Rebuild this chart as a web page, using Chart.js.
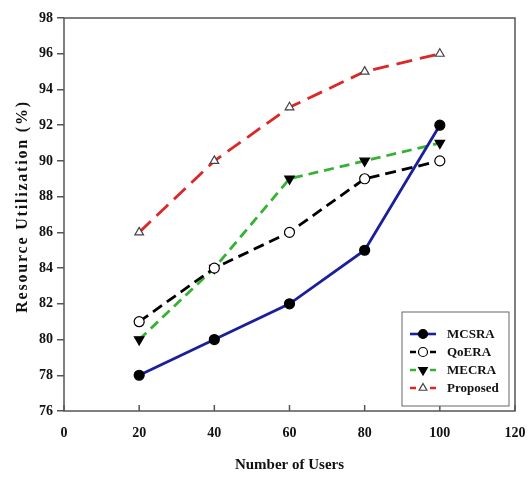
<!DOCTYPE html>
<html>
<head>
<meta charset="utf-8">
<script src="https://cdn.jsdelivr.net/npm/chart.js@4/dist/chart.umd.min.js"></script>
<style>
  html, body { margin: 0; padding: 0; background: #fff; }
  #wrap { width: 528px; height: 478px; }
</style>
</head>
<body>
<div id="wrap"><canvas id="utilChart" width="528" height="478"></canvas></div>
<script>
// users on the x axis, utilization (%) per scheme
const users = [20, 40, 60, 80, 100];
const mcsra = [78, 80, 82, 85, 92];
const qoera = [81, 84, 86, 89, 90];
const mecra = [80, 84, 89, 90, 91];
const proposed = [86, 90, 93, 95, 96];
const xTicks = [0, 20, 40, 60, 80, 100, 120];
const yTicks = [76, 78, 80, 82, 84, 86, 88, 90, 92, 94, 96, 98];
const yTitle = 'Resource Utilization (%)';

const FONT = '"Liberation Serif", "Times New Roman", serif';
const AXIS = '#555';

const pts = arr => users.map((u, i) => ({ x: u, y: arr[i] }));

const series = [
  { label: 'MCSRA', data: pts(mcsra), borderColor: '#1b1f9c', borderDash: [], pointStyle: 'circle', pointRadius: 5, pointBackgroundColor: '#000', pointBorderColor: '#000', rot: 0 },
  { label: 'QoERA', data: pts(qoera), borderColor: '#000', borderDash: [11, 6], pointStyle: 'circle', pointRadius: 5, pointBackgroundColor: '#fff', pointBorderColor: '#000', rot: 0 },
  { label: 'MECRA', data: pts(mecra), borderColor: '#33b233', borderDash: [10, 6], pointStyle: 'triangle', pointRadius: 5.5, pointBackgroundColor: '#000', pointBorderColor: '#000', rot: 180 },
  { label: 'Proposed', data: pts(proposed), borderColor: '#dd2626', borderDash: [16, 8], pointStyle: 'triangle', pointRadius: 5, pointBackgroundColor: '#fff', pointBorderColor: '#444', rot: 0 }
];

// frame, inward x ticks, spaced y title and the boxed legend
const framePlugin = {
  id: 'frame',
  afterDraw(chart) {
    const { ctx, chartArea: a, scales } = chart;
    ctx.save();
    ctx.strokeStyle = AXIS;
    ctx.lineWidth = 1.5;
    ctx.strokeRect(a.left, a.top, a.right - a.left, a.bottom - a.top);
    xTicks.forEach(v => {
      const px = scales.x.getPixelForValue(v);
      ctx.beginPath();
      ctx.moveTo(px, a.bottom);
      ctx.lineTo(px, a.bottom - 6);
      ctx.stroke();
    });

    ctx.save();
    ctx.translate(23, (a.top + a.bottom) / 2 - 8);
    ctx.rotate(-Math.PI / 2);
    ctx.font = 'bold 16px ' + FONT;
    ctx.letterSpacing = '1.8px';
    ctx.fillStyle = '#111';
    ctx.textAlign = 'center';
    ctx.textBaseline = 'middle';
    ctx.fillText(yTitle, 0, 0);
    ctx.restore();

    // legend box
    const bx = 402, by = 312, bw = 107, bh = 94;
    ctx.fillStyle = '#fff';
    ctx.fillRect(bx, by, bw, bh);
    ctx.strokeStyle = '#666';
    ctx.lineWidth = 1;
    ctx.strokeRect(bx, by, bw, bh);
    ctx.font = 'bold 13px ' + FONT;
    ctx.textBaseline = 'middle';
    series.forEach((s, i) => {
      const y = by + 22 + i * 18;
      const x0 = bx + 8, x1 = bx + 34, xm = (x0 + x1) / 2;
      ctx.strokeStyle = s.borderColor;
      ctx.lineWidth = 2.6;
      ctx.setLineDash(s.borderDash.length ? [6, 4] : []);
      ctx.beginPath();
      ctx.moveTo(x0, y);
      ctx.lineTo(x1, y);
      ctx.stroke();
      ctx.setLineDash([]);
      ctx.fillStyle = s.pointBackgroundColor;
      ctx.strokeStyle = s.pointBorderColor;
      ctx.lineWidth = 1.2;
      Chart.helpers.drawPoint(ctx, { pointStyle: s.pointStyle, radius: s.pointRadius - 0.5, rotation: s.rot, borderWidth: 1.2 }, xm, y);
      ctx.fillStyle = '#111';
      ctx.fillText(s.label, bx + 45, y + 1);
    });
    ctx.restore();
  }
};

new Chart(document.getElementById('utilChart'), {
  type: 'line',
  data: {
    datasets: series.map(s => ({
      label: s.label,
      data: s.data,
      borderColor: s.borderColor,
      borderDash: s.borderDash,
      borderWidth: 2.8,
      pointStyle: s.pointStyle,
      pointRadius: s.pointRadius,
      pointRotation: s.rot,
      pointBackgroundColor: s.pointBackgroundColor,
      pointBorderColor: s.pointBorderColor,
      pointBorderWidth: 1.2,
      tension: 0,
      fill: false
    }))
  },
  options: {
    responsive: false,
    animation: false,
    layout: { padding: { top: 18, right: 13, left: 0, bottom: 0 } },
    plugins: { legend: { display: false }, tooltip: { enabled: false } },
    scales: {
      x: {
        type: 'linear', min: 0, max: 120,
        afterBuildTicks: sc => { sc.ticks = xTicks.map(v => ({ value: v })); },
        afterFit: sc => { sc.height = 67; sc.paddingLeft = 0; sc.paddingRight = 0; },
        grid: { display: false, drawTicks: false },
        border: { display: false },
        ticks: { color: '#111', font: { family: FONT, size: 14, weight: 'bold' }, padding: 14, maxRotation: 0 },
        title: { display: true, text: 'Number of Users', color: '#111', font: { family: FONT, size: 15, weight: 'bold' }, padding: { top: 7 } }
      },
      y: {
        type: 'linear', min: 76, max: 98,
        afterBuildTicks: sc => { sc.ticks = yTicks.map(v => ({ value: v })); },
        afterFit: sc => { sc.width = 64; sc.paddingTop = 0; sc.paddingBottom = 0; },
        grid: { drawOnChartArea: false, drawTicks: true, tickLength: 7, color: AXIS, lineWidth: 1.5 },
        border: { display: false },
        ticks: { color: '#111', font: { family: FONT, size: 14, weight: 'bold' }, padding: 4 },
        title: { display: false }
      }
    }
  },
  plugins: [framePlugin]
});
</script>
</body>
</html>
